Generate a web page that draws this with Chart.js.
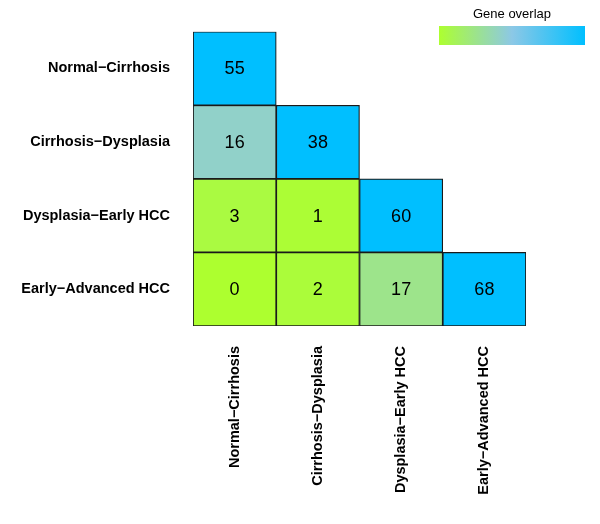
<!DOCTYPE html>
<html>
<head>
<meta charset="utf-8">
<script src="https://cdn.jsdelivr.net/npm/chart.js@4/dist/chart.umd.min.js"></script>
<style>
  body { margin: 0; background: #fff; }
</style>
</head>
<body>
<canvas id="overlapChart" width="600" height="524"></canvas>
<script>
const stageLabels = ['Normal−Cirrhosis', 'Cirrhosis−Dysplasia', 'Dysplasia−Early HCC', 'Early−Advanced HCC'];

// lower triangle of gene overlap counts, one array per row
const normalCirrhosis = [55];
const cirrhosisDysplasia = [16, 38];
const dysplasiaEarlyHCC = [3, 1, 60];
const earlyAdvancedHCC = [0, 2, 17, 68];

const overlapRows = [normalCirrhosis, cirrhosisDysplasia, dysplasiaEarlyHCC, earlyAdvancedHCC];

const legendTitle = 'Gene overlap';
const colorStops = [[173, 255, 47], [140, 200, 230], [0, 191, 255]];

function rampColor(t) {
	t = Math.max(0, Math.min(1, t));
	var seg = t < 0.5 ? 0 : 1;
	var f = (t - seg * 0.5) / 0.5;
	var a = colorStops[seg], b = colorStops[seg + 1];
	var c = a.map((v, i) => Math.round(v + (b[i] - v) * f));
	return 'rgb(' + c.join(',') + ')';
}

function cellColor(row, col) {
	var vals = overlapRows[row];
	var max = Math.max.apply(null, vals);
	return rampColor(max == 0 ? 0 : vals[col] / max);
}

const fontFamily = '"Liberation Sans", Arial, sans-serif';

const cellLabels = {
	id: 'cellLabels',
	afterDatasetsDraw(chart) {
		var ctx = chart.ctx;
		ctx.save();
		ctx.font = '18px ' + fontFamily;
		ctx.fillStyle = '#000';
		ctx.textAlign = 'center';
		ctx.textBaseline = 'middle';
		chart.data.datasets.forEach(function(ds, r) {
			chart.getDatasetMeta(r).data.forEach(function(el, c) {
				if (ds.data[c] == null) return;
				ctx.fillText(String(overlapRows[r][c]), el.x, (el.y + el.base) / 2 + 1);
			});
		});
		ctx.restore();
	}
};

const gradientLegend = {
	id: 'gradientLegend',
	afterDraw(chart) {
		var ctx = chart.ctx;
		var x = 439, y = 26, w = 146, h = 19;
		ctx.save();
		var grad = ctx.createLinearGradient(x, 0, x + w, 0);
		for (var i = 0; i <= 10; i++) grad.addColorStop(i / 10, rampColor(i / 10));
		ctx.fillStyle = grad;
		ctx.fillRect(x, y, w, h);
		ctx.font = '13px ' + fontFamily;
		ctx.fillStyle = '#000';
		ctx.textAlign = 'center';
		ctx.textBaseline = 'middle';
		ctx.fillText(legendTitle, x + w / 2, 14);
		ctx.restore();
	}
};

const datasets = overlapRows.map(function(vals, r) {
	return {
		data: stageLabels.map((s, c) => c < vals.length ? [r, r + 1] : null),
		backgroundColor: ctx => cellColor(r, ctx.dataIndex),
		borderColor: '#1a1a1a',
		borderWidth: 1.2,
		borderSkipped: false,
		barPercentage: 1,
		categoryPercentage: 1,
		grouped: false
	};
});

new Chart(document.getElementById('overlapChart').getContext('2d'), {
	type: 'bar',
	data: { labels: stageLabels, datasets: datasets },
	options: {
		responsive: false,
		animation: false,
		layout: { padding: { left: 0, right: 74, top: 30, bottom: 0 } },
		plugins: { legend: { display: false }, tooltip: { enabled: false } },
		scales: {
			x: {
				grid: { display: false, drawTicks: false },
				border: { display: false },
				ticks: {
					minRotation: 90, maxRotation: 90, padding: 20,
					color: '#000',
					font: { family: fontFamily, size: 14.5, weight: 'bold' }
				},
				afterFit: scale => { scale.height = 198; }
			},
			y: {
				type: 'linear', min: 0, max: 4, reverse: true,
				grid: { display: false, drawTicks: false },
				border: { display: false },
				afterBuildTicks: scale => { scale.ticks = [0.5, 1.5, 2.5, 3.5].map(v => ({ value: v })); },
				ticks: {
					padding: 23,
					color: '#000',
					font: { family: fontFamily, size: 14.5, weight: 'bold' },
					callback: v => stageLabels[Math.floor(v)]
				},
				afterFit: scale => { scale.width = 193; }
			}
		}
	},
	plugins: [cellLabels, gradientLegend]
});
</script>
</body>
</html>
